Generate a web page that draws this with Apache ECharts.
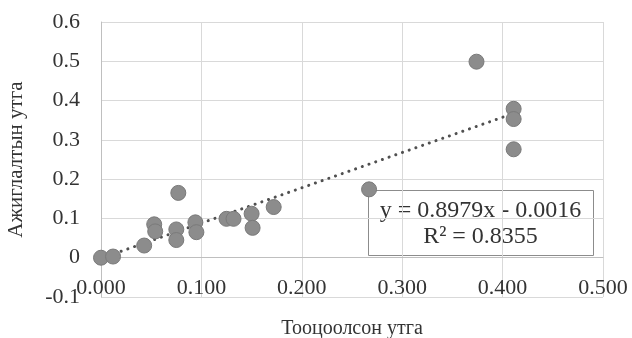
<!DOCTYPE html>
<html>
<head>
<meta charset="utf-8">
<script src="https://cdn.jsdelivr.net/npm/echarts@6/dist/echarts.min.js"></script>
<style>
  html, body { margin: 0; padding: 0; background: #fff; }
  #chart { width: 632px; height: 338px; }
</style>
</head>
<body>
<div id="chart"></div>
<script>
// observed points (calculated vs observed)
const calcValues = [0.000, 0.012, 0.043, 0.053, 0.054, 0.077, 0.075, 0.075, 0.094, 0.095,
  0.125, 0.132, 0.150, 0.151, 0.172, 0.267, 0.374, 0.411, 0.411, 0.411]
const obsValues = [0.000, 0.003, 0.031, 0.085, 0.067, 0.165, 0.072, 0.045, 0.090, 0.065,
  0.099, 0.099, 0.112, 0.076, 0.129, 0.174, 0.499, 0.379, 0.353, 0.276]

const xTickLabels = ['0.000', '0.100', '0.200', '0.300', '0.400', '0.500']
const yTickLabels = ['-0.1', '0', '0.1', '0.2', '0.3', '0.4', '0.5', '0.6']

// linear trendline shown in the chart
const slope = 0.8979
const intercept = -0.0016
const r2 = 0.8355

const chart = echarts.init(document.getElementById('chart'))

const points = calcValues.map((x, i) => [x, obsValues[i]])
const xMin = Math.min(...calcValues)
const xMax = Math.max(...calcValues)
const trend = [[xMin, slope * xMin + intercept], [xMax, slope * xMax + intercept]]

const serif = 'Liberation Serif'
const gridTop = 22
const gridBottom = 41
// x axis sits on y = 0, one band (0.1) above the bottom edge
const bandPx = (338 - gridTop - gridBottom) / 7

chart.setOption({
  backgroundColor: '#fff',
  animation: false,
  grid: { left: 101, right: 29, top: gridTop, bottom: gridBottom, containLabel: false, outerBoundsMode: 'none' },
  xAxis: {
    type: 'value',
    min: 0,
    max: 0.5,
    interval: 0.1,
    position: 'bottom',
    offset: -bandPx,
    name: 'Тооцоолсон утга',
    nameLocation: 'middle',
    nameGap: 61,
    nameTextStyle: { fontFamily: serif, fontSize: 20, color: '#333' },
    axisLine: { onZero: false, lineStyle: { color: '#bfbfbf', width: 1 } },
    axisTick: { show: false },
    axisLabel: {
      margin: 20,
      fontFamily: serif,
      fontSize: 22,
      color: '#333',
      formatter: v => xTickLabels[Math.round(v * 10)]
    },
    splitLine: { show: true, lineStyle: { color: '#d9d9d9', width: 1 } }
  },
  yAxis: {
    type: 'value',
    min: -0.1,
    max: 0.6,
    interval: 0.1,
    name: 'Ажиглалтын утга',
    nameLocation: 'middle',
    nameGap: 74,
    nameTextStyle: { fontFamily: serif, fontSize: 21, color: '#333' },
    axisLine: { show: true, onZero: false, lineStyle: { color: '#bfbfbf', width: 1 } },
    axisTick: { show: false },
    axisLabel: {
      margin: 21,
      fontFamily: serif,
      fontSize: 22,
      color: '#333',
      formatter: v => yTickLabels[Math.round(v * 10) + 1]
    },
    splitLine: { show: true, lineStyle: { color: '#d9d9d9', width: 1 } }
  },
  series: [
    {
      name: 'trend',
      type: 'line',
      data: trend,
      symbol: 'none',
      silent: true,
      lineStyle: { color: '#505050', width: 3, type: [0.1, 7], cap: 'round' },
      z: 2
    },
    {
      name: 'points',
      type: 'scatter',
      data: points,
      symbolSize: 15,
      itemStyle: { color: '#8c8c8c', borderColor: '#7a7a7a', borderWidth: 1, opacity: 1 },
      z: 3
    }
  ],
  graphic: [
    {
      type: 'group',
      left: 368,
      top: 190,
      z: 10,
      children: [
        {
          type: 'rect',
          shape: { x: 0, y: 0, width: 225, height: 65 },
          style: { fill: '#fff', stroke: '#8c8c8c', lineWidth: 1 }
        },
        {
          type: 'text',
          x: 112,
          y: 7,
          style: {
            text: 'y = ' + slope + 'x - ' + Math.abs(intercept).toFixed(4) + '\nR² = ' + r2,
            fontFamily: serif,
            fontSize: 24,
            lineHeight: 26,
            fill: '#333',
            textAlign: 'center'
          }
        }
      ]
    }
  ]
})
</script>
</body>
</html>
